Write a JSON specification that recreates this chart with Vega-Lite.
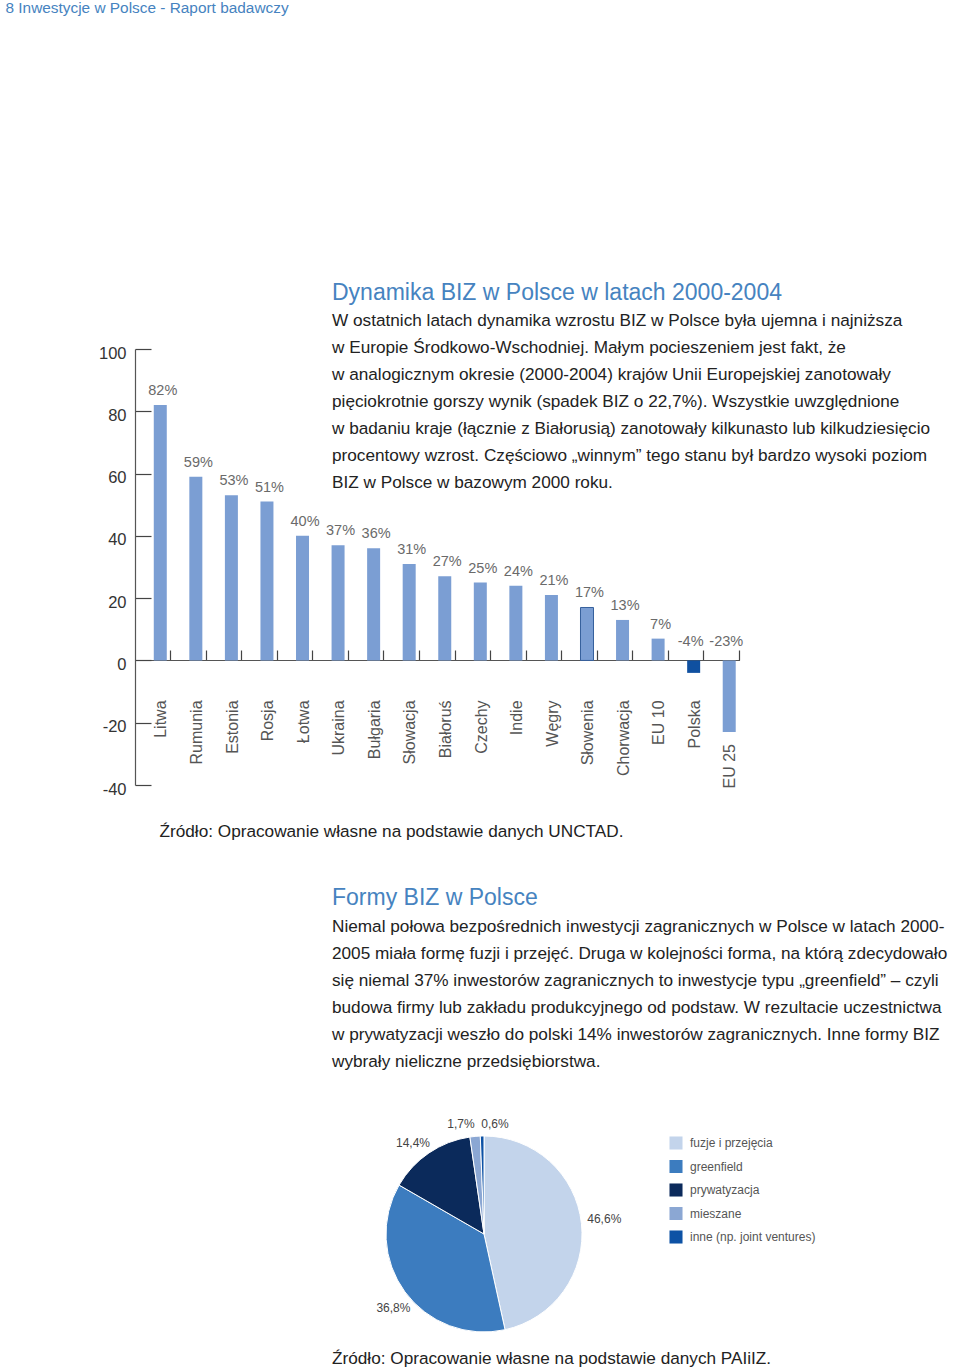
{
  "$schema": "https://vega.github.io/schema/vega-lite/v6.json",
  "background": "white",
  "padding": {"left": 5, "top": 1, "right": 0, "bottom": 0},
  "title": {
    "text": "8 Inwestycje w Polsce - Raport badawczy",
    "anchor": "start",
    "frame": "bounds",
    "dx": -93,
    "offset": 265,
    "fontSize": 15.4,
    "fontWeight": "normal",
    "color": "#4683c0"
  },
  "spacing": 46,
  "resolve": {"scale": {"color": "independent"}, "legend": {"color": "independent"}},
  "config": {
    "font": "Liberation Sans",
    "view": {"stroke": null},
    "title": {"font": "Liberation Sans", "subtitleFont": "Liberation Sans"},
    "axis": {"labelFont": "Liberation Sans", "titleFont": "Liberation Sans"},
    "legend": {"labelFont": "Liberation Sans"},
    "text": {"font": "Liberation Sans"}
  },
  "vconcat": [
    {
      "width": 604.5,
      "height": 436,
      "title": {
        "text": "Dynamika BIZ w Polsce w latach 2000-2004",
        "subtitle": [
          "W ostatnich latach dynamika wzrostu BIZ w Polsce była ujemna i najniższa",
          "w Europie Środkowo-Wschodniej. Małym pocieszeniem jest fakt, że",
          "w analogicznym okresie (2000-2004) krajów Unii Europejskiej zanotowały",
          "pięciokrotnie gorszy wynik (spadek BIZ o 22,7%). Wszystkie uwzględnione",
          "w badaniu kraje (łącznie z Białorusią) zanotowały kilkunasto lub kilkudziesięcio",
          "procentowy wzrost. Częściowo „winnym” tego stanu był bardzo wysoki poziom",
          "BIZ w Polsce w bazowym 2000 roku."
        ],
        "anchor": "start",
        "frame": "group",
        "dx": 197,
        "offset": -146,
        "fontSize": 23,
        "fontWeight": "normal",
        "color": "#4683c0",
        "subtitleFontSize": 17.2,
        "subtitleColor": "#222222",
        "subtitleLineHeight": 27,
        "subtitlePadding": 7
      },
      "data": {
        "values": [
          {"kraj": "Litwa", "v": 82},
          {"kraj": "Rumunia", "v": 59},
          {"kraj": "Estonia", "v": 53},
          {"kraj": "Rosja", "v": 51},
          {"kraj": "Łotwa", "v": 40},
          {"kraj": "Ukraina", "v": 37},
          {"kraj": "Bułgaria", "v": 36},
          {"kraj": "Słowacja", "v": 31},
          {"kraj": "Białoruś", "v": 27},
          {"kraj": "Czechy", "v": 25},
          {"kraj": "Indie", "v": 24},
          {"kraj": "Węgry", "v": 21},
          {"kraj": "Słowenia", "v": 17},
          {"kraj": "Chorwacja", "v": 13},
          {"kraj": "EU 10", "v": 7},
          {"kraj": "Polska", "v": -4},
          {"kraj": "EU 25", "v": -23}
        ]
      },
      "transform": [{"calculate": "datum.v + '%'", "as": "lbl"}],
      "encoding": {
        "x": {
          "field": "kraj",
          "type": "nominal",
          "sort": null,
          "scale": {"paddingInner": 0, "paddingOuter": 0},
          "axis": {
            "orient": "bottom",
            "offset": -125,
            "labels": false,
            "ticks": true,
            "tickSize": -10,
            "tickColor": "#444444",
            "tickWidth": 1.2,
            "domain": true,
            "domainColor": "#555555",
            "domainWidth": 1.2,
            "bandPosition": 1,
            "grid": false,
            "title": "Źródło: Opracowanie własne na podstawie danych UNCTAD.",
            "titleX": 24,
            "titleY": 171,
            "titleAlign": "left",
            "titleBaseline": "middle",
            "titleFontSize": 17.2,
            "titleFontWeight": "normal",
            "titleColor": "#222222"
          }
        }
      },
      "layer": [
        {
          "mark": {"type": "bar", "width": 13, "xOffset": 7.5, "strokeWidth": 1},
          "encoding": {
            "y": {
              "field": "v",
              "type": "quantitative",
              "scale": {"domain": [-40, 100], "nice": false},
              "axis": {
                "values": [-40, -20, 0, 20, 40, 60, 80, 100],
                "title": null,
                "grid": false,
                "domainColor": "#555555",
                "domainWidth": 1.2,
                "tickColor": "#444444",
                "tickWidth": 1.2,
                "tickSize": -16,
                "labelPadding": 25,
                "labelOffset": 4,
                "labelFontSize": 16.5,
                "labelColor": "#333333",
                "labelExpr": "'' + datum.value"
              }
            },
            "color": {
              "condition": {"test": "datum.kraj === 'Polska'", "value": "#0f50a0"},
              "value": "#7b9ed3"
            },
            "stroke": {
              "condition": {"test": "datum.kraj === 'Słowenia'", "value": "#36609c"},
              "value": "transparent"
            }
          }
        },
        {
          "transform": [{"filter": "datum.v >= 0"}],
          "mark": {"type": "text", "xOffset": 10, "dy": -14, "fontSize": 14.5, "color": "#6a6a6a"},
          "encoding": {
            "y": {"field": "v", "type": "quantitative"},
            "text": {"field": "lbl", "type": "nominal"}
          }
        },
        {
          "transform": [{"filter": "datum.v < 0"}],
          "mark": {"type": "text", "xOffset": 4.5, "dy": -18, "fontSize": 14.5, "color": "#6a6a6a"},
          "encoding": {
            "y": {"datum": 0, "type": "quantitative"},
            "text": {"field": "lbl", "type": "nominal"}
          }
        },
        {
          "transform": [{"filter": "datum.v > -13"}],
          "mark": {"type": "text", "angle": 270, "align": "right", "baseline": "middle", "dx": -40, "xOffset": 8.7, "fontSize": 16, "color": "#555555"},
          "encoding": {
            "y": {"datum": 0, "type": "quantitative"},
            "text": {"field": "kraj", "type": "nominal"}
          }
        },
        {
          "transform": [{"filter": "datum.v <= -13"}],
          "mark": {"type": "text", "angle": 270, "align": "right", "baseline": "middle", "dx": -12, "xOffset": 8.7, "fontSize": 16, "color": "#555555"},
          "encoding": {
            "y": {"field": "v", "type": "quantitative"},
            "text": {"field": "kraj", "type": "nominal"}
          }
        }
      ]
    },
    {
      "title": {
        "text": "Źródło: Opracowanie własne na podstawie danych PAIiIZ.",
        "orient": "bottom",
        "anchor": "start",
        "frame": "bounds",
        "dx": 197,
        "offset": -4,
        "fontSize": 17.2,
        "fontWeight": "normal",
        "color": "#222222"
      },
      "resolve": {"scale": {"color": "independent"}, "legend": {"color": "independent"}},
      "vconcat": [
        {
          "width": 698,
          "height": 240,
          "title": {
            "text": "Formy BIZ w Polsce",
            "subtitle": [
              "Niemal połowa bezpośrednich inwestycji zagranicznych w Polsce w latach 2000-",
              "2005 miała formę fuzji i przejęć. Druga w kolejności forma, na którą zdecydowało",
              "się niemal 37% inwestorów zagranicznych to inwestycje typu „greenfield” – czyli",
              "budowa firmy lub zakładu produkcyjnego od podstaw. W rezultacie uczestnictwa",
              "w prywatyzacji weszło do polski 14% inwestorów zagranicznych. Inne formy BIZ",
              "wybrały nieliczne przedsiębiorstwa."
            ],
            "anchor": "start",
            "frame": "group",
            "dx": 197,
            "offset": 35,
            "fontSize": 23,
            "fontWeight": "normal",
            "color": "#4683c0",
            "subtitleFontSize": 17.2,
            "subtitleColor": "#222222",
            "subtitleLineHeight": 27,
            "subtitlePadding": 8
          },
          "data": {
            "values": [
              {"forma": "fuzje i przejęcia", "u": 46.6, "nr": 1},
              {"forma": "greenfield", "u": 36.8, "nr": 2},
              {"forma": "prywatyzacja", "u": 14.4, "nr": 3},
              {"forma": "mieszane", "u": 1.7, "nr": 4},
              {"forma": "inne (np. joint ventures)", "u": 0.6, "nr": 5}
            ]
          },
          "transform": [{"calculate": "replace('' + datum.u, '.', ',') + '%'", "as": "lbl"}],
          "encoding": {
            "theta": {"field": "u", "type": "quantitative", "stack": true},
            "order": {"field": "nr", "type": "quantitative"}
          },
          "layer": [
            {
              "mark": {"type": "arc", "radius": 98, "stroke": "white", "strokeWidth": 1},
              "encoding": {
                "color": {
                  "field": "forma",
                  "type": "nominal",
                  "scale": {
                    "domain": ["fuzje i przejęcia", "greenfield", "prywatyzacja", "mieszane", "inne (np. joint ventures)"],
                    "range": ["#c3d4eb", "#3c7cbf", "#0b2a5b", "#8ba7d3", "#0d52a5"]
                  },
                  "legend": {
                    "orient": "none",
                    "legendX": 534,
                    "legendY": 22,
                    "title": null,
                    "padding": 0,
                    "symbolType": "square",
                    "symbolSize": 170,
                    "symbolStrokeWidth": 0,
                    "labelFontSize": 12,
                    "labelColor": "#555555",
                    "labelOffset": 7,
                    "rowPadding": 9.5
                  }
                }
              }
            },
            {
              "mark": {"type": "text", "radius": 121, "dy": -2, "fontSize": 12, "color": "#444444"},
              "encoding": {
                "text": {"condition": {"test": "datum.nr === 1", "field": "lbl", "type": "nominal"}, "value": ""}
              }
            },
            {
              "mark": {"type": "text", "radius": 116, "dy": 5, "dx": 3, "fontSize": 12, "color": "#444444"},
              "encoding": {
                "text": {"condition": {"test": "datum.nr === 2", "field": "lbl", "type": "nominal"}, "value": ""}
              }
            },
            {
              "mark": {"type": "text", "radius": 114, "dx": -7, "dy": 3, "fontSize": 12, "color": "#444444"},
              "encoding": {
                "text": {"condition": {"test": "datum.nr === 3", "field": "lbl", "type": "nominal"}, "value": ""}
              }
            },
            {
              "mark": {"type": "text", "radius": 110, "dx": -13, "fontSize": 12, "color": "#444444"},
              "encoding": {
                "text": {"condition": {"test": "datum.nr === 4", "field": "lbl", "type": "nominal"}, "value": ""}
              }
            },
            {
              "mark": {"type": "text", "radius": 110, "dx": 13, "fontSize": 12, "color": "#444444"},
              "encoding": {
                "text": {"condition": {"test": "datum.nr === 5", "field": "lbl", "type": "nominal"}, "value": ""}
              }
            }
          ]
        }
      ]
    }
  ]
}
